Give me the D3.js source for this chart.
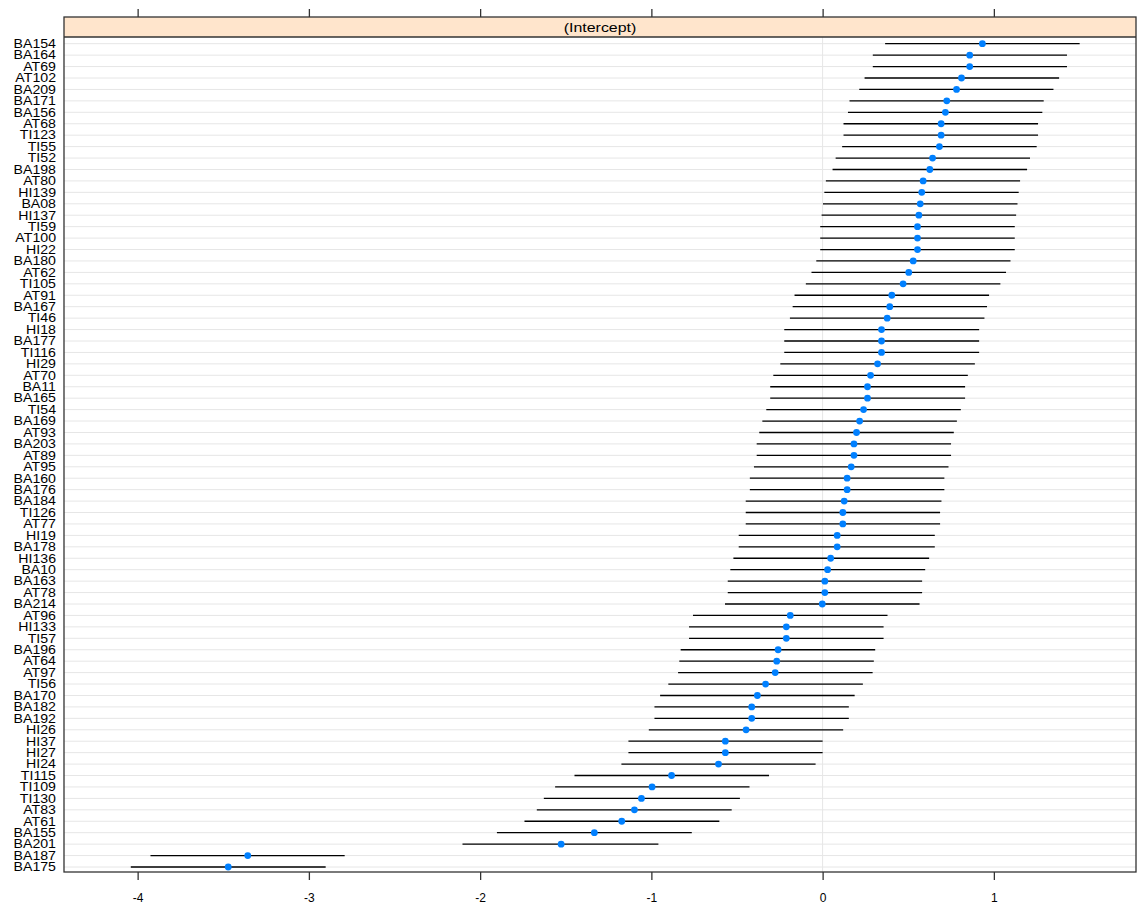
<!DOCTYPE html>
<html>
<head>
<meta charset="utf-8">
<script src="https://cdn.jsdelivr.net/npm/d3@7"></script>
<style>
  html, body { margin: 0; padding: 0; background: #ffffff; }
  svg { display: block; }
  text { font-family: "Liberation Sans", Arial, sans-serif; fill: #000; }
</style>
</head>
<body>
<svg id="chart" width="1137" height="904"></svg>
<script>
// Random-intercept estimates with their interval bounds, one row per level
const levels = ["BA154","BA164","AT69","AT102","BA209","BA171","BA156","AT68","TI123","TI55",
  "TI52","BA198","AT80","HI139","BA08","HI137","TI59","AT100","HI22","BA180",
  "AT62","TI105","AT91","BA167","TI46","HI18","BA177","TI116","HI29","AT70",
  "BA11","BA165","TI54","BA169","AT93","BA203","AT89","AT95","BA160","BA176",
  "BA184","TI126","AT77","HI19","BA178","HI136","BA10","BA163","AT78","BA214",
  "AT96","HI133","TI57","BA196","AT64","AT97","TI56","BA170","BA182","BA192",
  "HI26","HI37","HI27","HI24","TI115","TI109","TI130","AT83","AT61","BA155",
  "BA201","BA187","BA175"];

const estimate = [0.933, 0.859, 0.859, 0.811, 0.782, 0.725, 0.717, 0.692, 0.692, 0.682,
  0.642, 0.626, 0.587, 0.579, 0.570, 0.562, 0.554, 0.554, 0.554, 0.529,
  0.503, 0.470, 0.404, 0.392, 0.377, 0.344, 0.344, 0.344, 0.321, 0.280,
  0.262, 0.262, 0.239, 0.216, 0.198, 0.183, 0.183, 0.167, 0.143, 0.143,
  0.126, 0.118, 0.118, 0.085, 0.085, 0.047, 0.029, 0.013, 0.013, -0.002,
  -0.189, -0.212, -0.212, -0.260, -0.268, -0.277, -0.333, -0.381, -0.414, -0.414,
  -0.447, -0.568, -0.568, -0.608, -0.882, -0.996, -1.058, -1.099, -1.173, -1.333,
  -1.527, -3.357, -3.471];

const lower = [0.365, 0.293, 0.293, 0.245, 0.214, 0.157, 0.148, 0.122, 0.122, 0.114,
  0.076, 0.058, 0.019, 0.010, 0.002, -0.006, -0.014, -0.014, -0.014, -0.037,
  -0.065, -0.098, -0.164, -0.175, -0.191, -0.224, -0.224, -0.224, -0.247, -0.288,
  -0.306, -0.306, -0.329, -0.352, -0.370, -0.385, -0.385, -0.401, -0.425, -0.425,
  -0.449, -0.449, -0.449, -0.490, -0.490, -0.521, -0.539, -0.554, -0.554, -0.570,
  -0.757, -0.780, -0.780, -0.829, -0.837, -0.844, -0.901, -0.949, -0.982, -0.982,
  -1.015, -1.134, -1.134, -1.175, -1.449, -1.562, -1.628, -1.669, -1.741, -1.902,
  -2.103, -3.925, -4.040];

const upper = [1.501, 1.427, 1.427, 1.381, 1.348, 1.291, 1.283, 1.258, 1.258, 1.250,
  1.211, 1.194, 1.153, 1.145, 1.138, 1.130, 1.122, 1.122, 1.122, 1.097,
  1.071, 1.038, 0.972, 0.960, 0.945, 0.914, 0.914, 0.914, 0.889, 0.848,
  0.832, 0.832, 0.807, 0.784, 0.766, 0.750, 0.750, 0.735, 0.711, 0.711,
  0.694, 0.686, 0.686, 0.655, 0.655, 0.622, 0.599, 0.581, 0.581, 0.566,
  0.379, 0.356, 0.356, 0.307, 0.299, 0.292, 0.235, 0.187, 0.153, 0.153,
  0.120, 0.000, 0.000, -0.041, -0.313, -0.427, -0.483, -0.531, -0.603, -0.764,
  -0.959, -2.791, -2.902];

const xTicks = [-4, -3, -2, -1, 0, 1];
const xTickLabels = ["-4", "-3", "-2", "-1", "0", "1"];
const xLimits = [-4.43, 1.83];
const stripLabel = "(Intercept)";

const rows = levels.map((name, i) => ({ name, est: estimate[i], lo: lower[i], hi: upper[i] }));

// Panel geometry
const panel = { left: 64, right: 1136, top: 37, bottom: 872 };
const strip = { top: 17, bottom: 37 };
const labelStretch = 1.18;

const svg = d3.select("#chart");

const x = d3.scaleLinear().domain(xLimits).range([panel.left, panel.right]);
const y = d3.scalePoint().domain(levels).range([43.7, 867]);

// Strip with the term name
svg.append("rect")
  .attr("x", panel.left).attr("y", strip.top)
  .attr("width", panel.right - panel.left).attr("height", strip.bottom - strip.top)
  .attr("fill", "#ffe5cc");
svg.append("text")
  .attr("transform", `translate(${(panel.left + panel.right) / 2},${strip.top + 15}) scale(${labelStretch},1)`)
  .attr("text-anchor", "middle")
  .attr("font-size", 13.5)
  .text(stripLabel);

// Row reference lines
const g = svg.append("g");
g.selectAll("line.row").data(levels).join("line")
  .attr("class", "row")
  .attr("x1", panel.left).attr("x2", panel.right)
  .attr("y1", d => y(d)).attr("y2", d => y(d))
  .attr("stroke", "#e6e6e6").attr("stroke-width", 1);

// Zero reference line
g.append("line")
  .attr("x1", x(0)).attr("x2", x(0))
  .attr("y1", panel.top).attr("y2", panel.bottom)
  .attr("stroke", "#e6e6e6").attr("stroke-width", 1);

// Intervals
g.selectAll("line.ci").data(rows).join("line")
  .attr("class", "ci")
  .attr("x1", d => x(d.lo)).attr("x2", d => x(d.hi))
  .attr("y1", d => y(d.name)).attr("y2", d => y(d.name))
  .attr("stroke", "#000").attr("stroke-width", 1.3);

// Point estimates
g.selectAll("circle").data(rows).join("circle")
  .attr("cx", d => x(d.est)).attr("cy", d => y(d.name))
  .attr("r", 3.4)
  .attr("fill", "#0080ff");

// Panel and strip borders
svg.append("rect")
  .attr("x", panel.left).attr("y", strip.top)
  .attr("width", panel.right - panel.left).attr("height", panel.bottom - strip.top)
  .attr("fill", "none").attr("stroke", "#333").attr("stroke-width", 1.3);
svg.append("line")
  .attr("x1", panel.left).attr("x2", panel.right)
  .attr("y1", strip.bottom).attr("y2", strip.bottom)
  .attr("stroke", "#333").attr("stroke-width", 1.3);

// Bottom axis with labels, top axis with ticks only
const bottomAxis = d3.axisBottom(x).tickValues(xTicks).tickSize(8).tickPadding(13)
  .tickFormat((d, i) => xTickLabels[i]);
const ax = svg.append("g").attr("transform", `translate(0,${panel.bottom})`).call(bottomAxis);
ax.select(".domain").remove();
ax.selectAll(".tick line").attr("stroke", "#333").attr("stroke-width", 1.3);
ax.selectAll(".tick text")
  .attr("font-family", "Liberation Sans, Arial, sans-serif")
  .attr("font-size", 12).attr("fill", "#000");

const topAxis = d3.axisTop(x).tickValues(xTicks).tickSize(8).tickFormat("");
const axt = svg.append("g").attr("transform", `translate(0,${strip.top})`).call(topAxis);
axt.select(".domain").remove();
axt.selectAll(".tick line").attr("stroke", "#333").attr("stroke-width", 1.3);

// Level labels on the left
svg.append("g").selectAll("text").data(levels).join("text")
  .attr("transform", d => `translate(56,${y(d) + 4.3}) scale(${labelStretch},1)`)
  .attr("text-anchor", "end")
  .attr("font-size", 12)
  .text(d => d);
</script>
</body>
</html>
